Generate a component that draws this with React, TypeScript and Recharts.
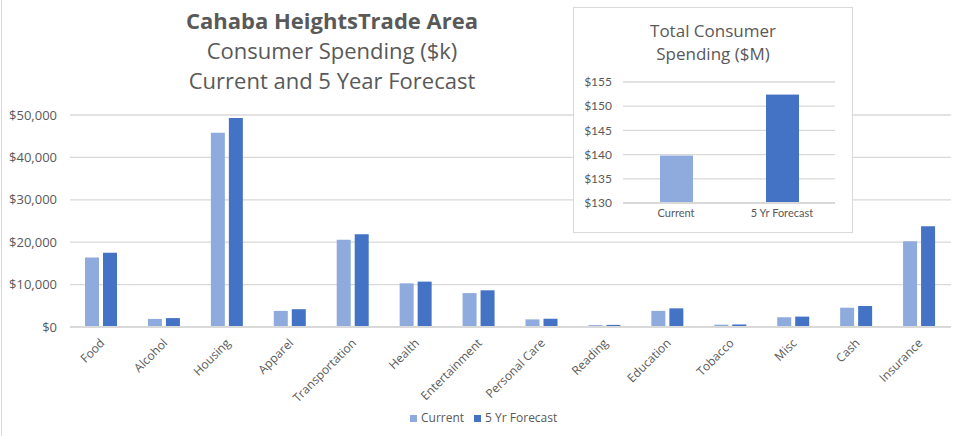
import React from 'react';
import { BarChart, Bar, XAxis, YAxis, CartesianGrid, Legend } from 'recharts';

const categories = ['Food', 'Alcohol', 'Housing', 'Apparel', 'Transportation', 'Health', 'Entertainment', 'Personal Care', 'Reading', 'Education', 'Tobacco', 'Misc', 'Cash', 'Insurance'];
const currentValues = [16400, 1900, 45800, 3800, 20600, 10300, 8000, 1800, 450, 3800, 550, 2300, 4550, 20200];
const forecastValues = [17500, 2100, 49300, 4200, 21900, 10700, 8650, 1950, 500, 4400, 600, 2450, 4950, 23750];
const yTicks = [0, 10000, 20000, 30000, 40000, 50000];

const totalLabels = ['Current', '5 Yr Forecast'];
const totalValues = [139.8, 152.4];
const totalTicks = [130, 135, 140, 145, 150, 155];

const mainData = categories.map((c, i) => ({ category: c, current: currentValues[i], forecast: forecastValues[i] }));
const totalData = totalLabels.map((l, i) => ({ label: l, value: totalValues[i] }));

const FONT = '"Open Sans", Lato, sans-serif';
const FONT2 = 'Lato, "Open Sans", sans-serif';
const TEXT = '#595959';
const GRID = '#D9D9D9';
const C1 = '#8FAADC';
const C2 = '#4472C4';

const fmtMain = (v: number) => '$' + v.toLocaleString('en-US');
const fmtTotal = (v: number) => '$' + v;

const RotTick = (props: any) => {
  const { x, y, payload } = props;
  return (
    <g transform={`translate(${x + 1},${y + 12})`}>
      <text x={0} y={0} dy={4} textAnchor="end" transform="rotate(-45)" fontSize={12} fill={TEXT} fontFamily={FONT}>
        {payload.value}
      </text>
    </g>
  );
};

const InsetXTick = (props: any) => {
  const { x, y, payload } = props;
  return (
    <text x={x} y={y} dy={12} textAnchor="middle" fontSize={11} fill={TEXT} fontFamily={FONT2}>
      {payload.value}
    </text>
  );
};

export default function App() {
  return (
    <div style={{ position: 'absolute', left: 0, top: 0, width: 963, height: 436, background: '#fff', fontFamily: FONT, overflow: 'hidden' }}>
      <div style={{ position: 'absolute', left: 1, top: 0, width: 1, height: 436, background: GRID }} />
      <BarChart
        width={963}
        height={436}
        data={mainData}
        margin={{ top: 115, right: 12, left: 0, bottom: 29 }}
        barGap={4}
        barSize={14}
      >
        <CartesianGrid horizontal={true} vertical={false} stroke={GRID} strokeWidth={1.3} />
        <XAxis
          dataKey="category"
          interval={0}
          tickLine={false}
          tickSize={0}
          axisLine={{ stroke: GRID, strokeWidth: 2 }}
          height={80}
          tick={<RotTick />}
        />
        <YAxis
          width={70}
          domain={[0, 50000]}
          ticks={yTicks}
          tickFormatter={fmtMain}
          axisLine={false}
          tickLine={false}
          tickSize={0}
          tickMargin={13}
          tick={{ fontSize: 13, fill: TEXT, fontFamily: FONT }}
        />
        <Legend
          layout="horizontal"
          verticalAlign="middle"
          align="center"
          iconType="square"
          iconSize={7}
          itemSorter="dataKey"
          wrapperStyle={{ position: 'absolute', top: 409, left: 410, width: 'auto', fontSize: 12, fontFamily: FONT }}
          formatter={(value: string) => <span style={{ color: TEXT }}>{value}</span>}
        />
        <Bar dataKey="current" name="Current" fill={C1} isAnimationActive={false} />
        <Bar dataKey="forecast" name="5 Yr Forecast" fill={C2} isAnimationActive={false} />
      </BarChart>

      <div style={{ position: 'absolute', left: 0, top: 5, width: 664, textAlign: 'center', color: TEXT, fontFamily: FONT, lineHeight: '30px' }}>
        <div style={{ fontSize: 22, fontWeight: 700 }}>Cahaba HeightsTrade Area</div>
        <div style={{ fontSize: 22 }}>Consumer Spending ($k)</div>
        <div style={{ fontSize: 22 }}>Current and 5 Year Forecast</div>
      </div>

      <div style={{ position: 'absolute', left: 573, top: 7, width: 280, height: 226, border: `1px solid ${GRID}`, background: '#fff', boxSizing: 'border-box' }}>
        <div style={{ position: 'absolute', left: 0, top: 11, width: 278, textAlign: 'center', color: TEXT, fontFamily: FONT, fontSize: 17, lineHeight: '23px' }}>
          <div>Total Consumer</div>
          <div>Spending ($M)</div>
        </div>
        <div style={{ position: 'absolute', left: 0, top: 0 }}>
          <BarChart width={278} height={224} data={totalData} margin={{ top: 74, right: 17, left: 0, bottom: 5 }} barSize={33}>
            <CartesianGrid horizontal={true} vertical={false} stroke={GRID} strokeWidth={1.3} />
            <XAxis
              dataKey="label"
              interval={0}
              tickLine={false}
              tickSize={0}
              axisLine={{ stroke: GRID, strokeWidth: 2 }}
              height={24}
              tick={<InsetXTick />}
            />
            <YAxis
              width={49}
              domain={[130, 155]}
              ticks={totalTicks}
              tickFormatter={fmtTotal}
              axisLine={false}
              tickLine={false}
              tickSize={0}
              tickMargin={11}
              tick={{ fontSize: 12, fill: TEXT, fontFamily: FONT2 }}
              allowDataOverflow={true}
            />
            <Bar dataKey="value" fill={C1} isAnimationActive={false} shape={(p: any) => (
              <rect x={p.x} y={p.y} width={p.width} height={p.height} fill={p.index === 0 ? C1 : C2} />
            )} />
          </BarChart>
        </div>
      </div>
    </div>
  );
}
